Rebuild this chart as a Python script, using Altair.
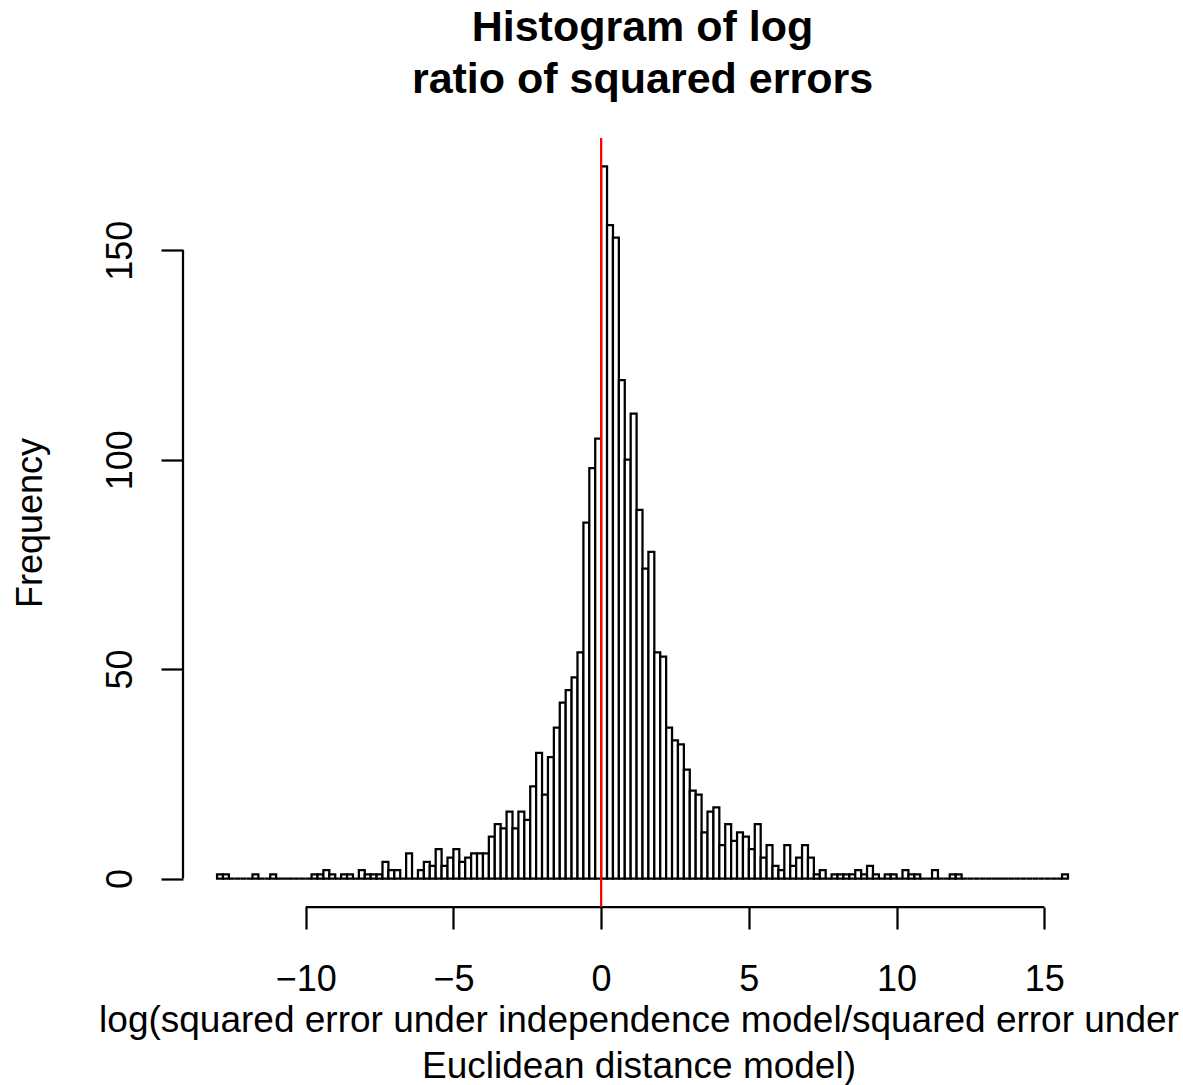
import altair as alt
import pandas as pd

# Histogram counts, bins of width 0.2 starting at -13
bin_start = -13.0
bin_width = 0.2
counts = [
    1, 1, 0, 0, 0, 0, 1, 0, 0, 1,
    0, 0, 0, 0, 0, 0, 1, 1, 2, 1,
    0, 1, 1, 0, 2, 1, 1, 1, 4, 2,
    2, 0, 6, 0, 2, 4, 3, 7, 3, 5,
    7, 4, 5, 6, 6, 6, 10, 13, 12, 16,
    12, 16, 14, 22, 30, 20, 29, 36, 42, 45,
    48, 54, 85, 98, 105, 170, 156, 153, 119, 100,
    111, 88, 74, 78, 54, 53, 36, 33, 32, 26,
    21, 20, 11, 16, 17, 8, 13, 9, 11, 10,
    7, 13, 5, 8, 3, 2, 8, 3, 5, 8,
    5, 1, 2, 0, 1, 1, 1, 1, 2, 1,
    3, 1, 0, 1, 1, 0, 2, 1, 1, 0,
    0, 2, 0, 0, 1, 1, 0, 0, 0, 0,
    0, 0, 0, 0, 0, 0, 0, 0, 0, 0,
    0, 0, 0, 1,
]

x_ticks = [-10, -5, 0, 5, 10, 15]
y_ticks = [0, 50, 100, 150]
x_domain = [-14.152, 16.952]
y_domain = [-6.8, 176.8]
ref_line = [0]

title_lines = ["Histogram of log", "ratio of squared errors"]
x_title = [
    "log(squared error under independence model/squared error under",
    "Euclidean distance model)",
]
y_title = "Frequency"

FONT = "Liberation Sans"
W, H = 919, 769
LW = 2.25

bins = pd.DataFrame({
    "lo": [round(bin_start + i * bin_width, 4) for i in range(len(counts))],
    "hi": [round(bin_start + (i + 1) * bin_width, 4) for i in range(len(counts))],
    "count": counts,
    "zero": [0] * len(counts),
})

xscale = alt.Scale(domain=x_domain, nice=False, zero=False)
yscale = alt.Scale(domain=y_domain, nice=False, zero=False)

minus_expr = "datum.value < 0 ? '\u2212' + format(-datum.value, 'd') : format(datum.value, 'd')"

x_axis = alt.Axis(
    values=x_ticks, domain=False, grid=False, ticks=True, tickSize=22,
    tickWidth=LW, tickColor="black", labelFont=FONT, labelFontSize=36,
    labelColor="black", labelBaseline="alphabetic", labelPadding=61,
    labelExpr=minus_expr, labelFlush=False, labelOverlap=False,
    title=x_title, titleFont=FONT, titleFontSize=37, titleFontWeight="normal",
    titleColor="black", titleBaseline="alphabetic", titleAlign="center",
    titleLineHeight=46, titleY=124, titleX=W / 2 - 4,
)
y_axis = alt.Axis(
    values=y_ticks, domain=False, grid=False, ticks=True, tickSize=22,
    tickWidth=LW, tickColor="black", labelFont=FONT, labelFontSize=36,
    labelColor="black", labelAngle=-90, labelAlign="center",
    labelBaseline="alphabetic", labelPadding=30, labelFlush=False,
    labelOverlap=False,
    title=y_title, titleFont=FONT, titleFontSize=36, titleFontWeight="normal",
    titleColor="black", titleAngle=-90, titleBaseline="alphabetic",
    titleAlign="center", titleX=-142, titleY=H / 2,
)

bars = alt.Chart(bins).mark_rect(
    fill="white", stroke="black", strokeWidth=LW
).encode(
    x=alt.X("lo:Q", scale=xscale, axis=x_axis),
    x2="hi:Q",
    y=alt.Y("count:Q", scale=yscale, axis=y_axis),
    y2="zero:Q",
)

# Axis lines spanning only the tick range
x_line = alt.Chart(pd.DataFrame({"a": [x_ticks[0]], "b": [x_ticks[-1]]})).mark_rule(
    color="black", strokeWidth=LW
).encode(x=alt.X("a:Q", scale=xscale), x2="b:Q", y=alt.value(H))

y_line = alt.Chart(pd.DataFrame({"a": [y_ticks[0]], "b": [y_ticks[-1]]})).mark_rule(
    color="black", strokeWidth=LW
).encode(y=alt.Y("a:Q", scale=yscale), y2="b:Q", x=alt.value(0))

vline = alt.Chart(pd.DataFrame({"v": ref_line})).mark_rule(
    color="#ff0000", strokeWidth=LW
).encode(x=alt.X("v:Q", scale=xscale), y=alt.value(0), y2=alt.value(H))

chart = alt.layer(bars, x_line, y_line, vline).properties(
    width=W,
    height=H,
    title=alt.TitleParams(
        text=title_lines, font=FONT, fontSize=43, fontWeight="bold",
        color="black", anchor="middle", lineHeight=52, offset=35,
    ),
    autosize=alt.AutoSizeParams(type="none"),
    padding={"left": 183, "top": 138, "right": 81, "bottom": 178},
).configure(
    background="white",
    view=alt.ViewConfig(strokeWidth=0, stroke="transparent"),
)

chart.save("out.html", embed_options={"renderer": "svg", "actions": False})
